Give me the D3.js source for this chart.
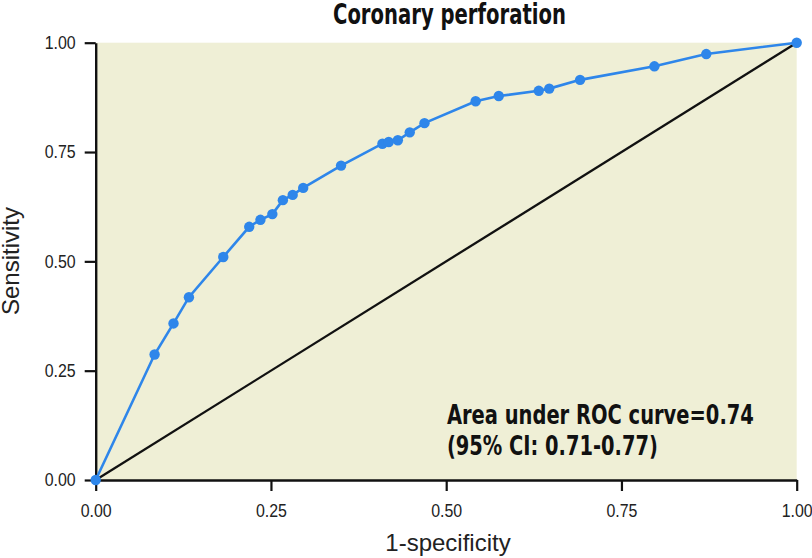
<!DOCTYPE html>
<html>
<head>
<meta charset="utf-8">
<script src="https://cdn.jsdelivr.net/npm/d3@7"></script>
<style>
  html, body { margin: 0; padding: 0; background: #fff; }
  svg { display: block; }
</style>
</head>
<body>
<svg id="chart" width="812" height="558"></svg>
<script>
// ---- data ----
const fpr = [0, 0.084, 0.111, 0.133, 0.182, 0.219, 0.235, 0.252, 0.267, 0.281, 0.296, 0.350,
             0.409, 0.418, 0.431, 0.448, 0.469, 0.542, 0.575, 0.632, 0.647, 0.691, 0.797, 0.871, 1];
const tpr = [0, 0.287, 0.358, 0.418, 0.510, 0.579, 0.595, 0.608, 0.640, 0.652, 0.668, 0.719,
             0.769, 0.773, 0.777, 0.795, 0.816, 0.866, 0.878, 0.890, 0.895, 0.915, 0.946, 0.974, 1];
const xTicks = [0, 0.25, 0.5, 0.75, 1];
const yTicks = [0, 0.25, 0.5, 0.75, 1];
const refLine = [[0, 0], [1, 1]];
const titleText = "Coronary perforation";
const xLabel = "1-specificity";
const yLabel = "Sensitivity";
const annotation = ["Area under ROC curve=0.74", "(95% CI: 0.71-0.77)"];

// ---- layout ----
const svg = d3.select("#chart");
const mLeft = 95.7, mRight = 796.7, mTop = 42.7, mBottom = 480;
const x = d3.scaleLinear().domain([0, 1]).range([mLeft, mRight]);
const y = d3.scaleLinear().domain([0, 1]).range([mBottom, mTop]);

const narrow = "'Liberation Sans Narrow', 'DejaVu Sans Condensed', 'Liberation Sans', sans-serif";
const regular = "'Liberation Sans', Arial, sans-serif";

// panel background
svg.append("rect")
  .attr("x", x(0)).attr("y", y(1))
  .attr("width", x(1) - x(0)).attr("height", y(0) - y(1))
  .attr("fill", "#efefd6");

// reference diagonal
svg.append("path")
  .datum(refLine)
  .attr("d", d3.line().x(d => x(d[0])).y(d => y(d[1])))
  .attr("stroke", "#111").attr("stroke-width", 2.3).attr("fill", "none");

// axes
const xAxis = svg.append("g")
  .attr("transform", `translate(0,${mBottom})`)
  .call(d3.axisBottom(x).tickValues(xTicks).tickFormat(d3.format(".2f")).tickSize(11).tickSizeOuter(0).tickPadding(13));
const yAxis = svg.append("g")
  .attr("transform", `translate(${mLeft},0)`)
  .call(d3.axisLeft(y).tickValues(yTicks).tickFormat(d3.format(".2f")).tickSize(11).tickSizeOuter(0).tickPadding(9));

[xAxis, yAxis].forEach(g => {
  g.select(".domain").attr("stroke", "#111").attr("stroke-width", 2.4);
  g.selectAll(".tick line").attr("stroke", "#111").attr("stroke-width", 2.2);
  g.selectAll(".tick text")
    .attr("fill", "#222")
    .attr("textLength", 31).attr("lengthAdjust", "spacingAndGlyphs")
    .style("font-family", regular)
    .style("font-size", "18px");
});

// ROC curve
const pts = fpr.map((v, i) => [v, tpr[i]]);
svg.append("path")
  .datum(pts)
  .attr("d", d3.line().x(d => x(d[0])).y(d => y(d[1])))
  .attr("stroke", "#2e86ea").attr("stroke-width", 2.6).attr("fill", "none");
svg.selectAll("circle.pt")
  .data(pts).enter().append("circle")
  .attr("class", "pt")
  .attr("cx", d => x(d[0])).attr("cy", d => y(d[1]))
  .attr("r", 5.2).attr("fill", "#2e86ea");

// title
svg.append("text")
  .attr("x", 449.5).attr("y", 23.5)
  .attr("text-anchor", "middle")
  .attr("textLength", 233).attr("lengthAdjust", "spacingAndGlyphs")
  .style("font-family", narrow).style("font-weight", "bold").style("font-size", "28px")
  .attr("fill", "#111")
  .text(titleText);

// axis labels
svg.append("text")
  .attr("x", 448).attr("y", 551)
  .attr("text-anchor", "middle")
  .style("font-family", regular).style("font-size", "24px")
  .attr("fill", "#222")
  .text(xLabel);
svg.append("text")
  .attr("transform", `translate(19,261) rotate(-90)`)
  .attr("text-anchor", "middle")
  .style("font-family", regular).style("font-size", "24px")
  .attr("fill", "#222")
  .text(yLabel);

// annotation
const annoLens = [307, 211];
const annoY = [424.3, 455];
annotation.forEach((t, i) => {
  svg.append("text")
    .attr("x", x(0.501)).attr("y", annoY[i])
    .attr("textLength", annoLens[i]).attr("lengthAdjust", "spacingAndGlyphs")
    .style("font-family", narrow).style("font-weight", "bold").style("font-size", "27px")
    .attr("fill", "#111")
    .text(t);
});
</script>
</body>
</html>
